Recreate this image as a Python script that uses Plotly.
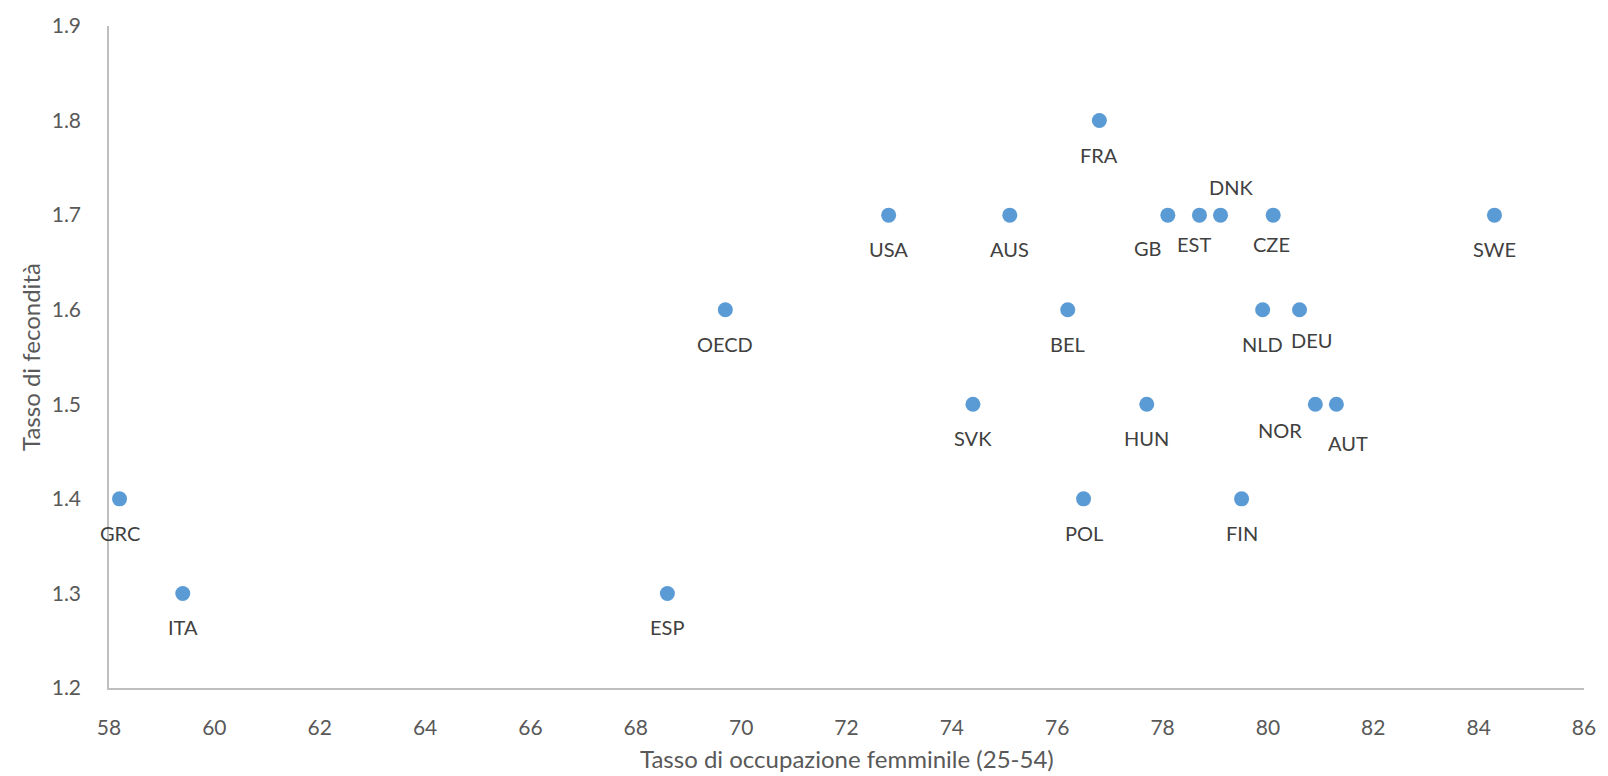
import plotly.graph_objects as go

countries = ["GRC", "ITA", "ESP", "OECD", "USA", "SVK", "AUS", "BEL", "POL", "FRA",
             "HUN", "GB", "EST", "DNK", "FIN", "NLD", "CZE", "DEU", "NOR", "AUT", "SWE"]
employment = [58.2, 59.4, 68.6, 69.7, 72.8, 74.4, 75.1, 76.2, 76.5, 76.8,
              77.7, 78.1, 78.7, 79.1, 79.5, 79.9, 80.1, 80.6, 80.9, 81.3, 84.3]
fertility = [1.4, 1.3, 1.3, 1.6, 1.7, 1.5, 1.7, 1.6, 1.4, 1.8,
             1.5, 1.7, 1.7, 1.7, 1.4, 1.6, 1.7, 1.6, 1.5, 1.5, 1.7]

# label offsets in pixels (dx right, dy down)
label_dx = {"GB": -20, "EST": -5, "DNK": 10, "CZE": -2, "DEU": 12, "NOR": -35, "AUT": 12}
label_dy = {"GB": 33, "EST": 29, "DNK": -28, "CZE": 29, "DEU": 30, "NOR": 26, "AUT": 39}

font_family = "Lato"
tick_color = "#595959"
label_color = "#404040"

fig = go.Figure()
fig.add_trace(go.Scatter(
    x=employment, y=fertility, mode="markers",
    marker=dict(size=15, color="#5B9BD5"),
    hoverinfo="skip", showlegend=False,
))

annotations = []
for c, xv, yv in zip(countries, employment, fertility):
    annotations.append(dict(
        x=xv, y=yv, xref="x", yref="y", text=c, showarrow=False,
        xanchor="center", yanchor="middle",
        xshift=label_dx.get(c, 0), yshift=-label_dy.get(c, 34),
        font=dict(family=font_family, size=20, color=label_color),
    ))

annotations.append(dict(
    x=0.5, y=0, xref="paper", yref="paper", text="Tasso di occupazione femminile (25-54)",
    showarrow=False, xanchor="center", yanchor="middle", yshift=-70,
    font=dict(family=font_family, size=24, color=tick_color),
))
annotations.append(dict(
    x=0, y=0.5, xref="paper", yref="paper", text="Tasso di fecondità",
    showarrow=False, xanchor="center", yanchor="middle", xshift=-79, textangle=-90,
    font=dict(family=font_family, size=24, color=tick_color),
))

fig.update_layout(
    width=1608, height=776,
    margin=dict(l=109, r=17, t=19, b=88),
    paper_bgcolor="white", plot_bgcolor="white",
    annotations=annotations,
    font=dict(family=font_family, color=tick_color),
)
fig.update_xaxes(
    range=[58, 86], dtick=2, tick0=58, showgrid=False, zeroline=False,
    showline=True, linecolor="#BFBFBF", linewidth=1.5, ticks="",
    tickfont=dict(family=font_family, size=21, color=tick_color),
    ticklabelstandoff=20,
)
fig.update_yaxes(
    range=[1.2, 1.9], dtick=0.1, tick0=1.2, showgrid=False, zeroline=False,
    showline=True, linecolor="#BFBFBF", linewidth=1.5, ticks="",
    tickformat=".1f",
    tickfont=dict(family=font_family, size=21, color=tick_color),
    ticklabelstandoff=22,
)

fig.write_html(
    "out.html",
    config={"displayModeBar": False},
    post_script="document.body.style.margin='0';document.body.style.overflow='hidden';",
)
